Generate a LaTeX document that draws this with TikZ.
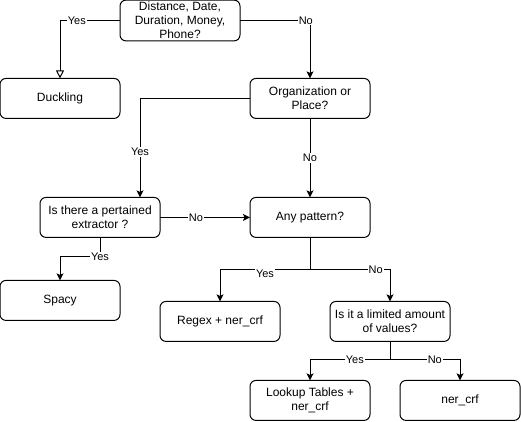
\documentclass[tikz,border=0pt]{standalone}
\usepackage{fontspec}
\setmainfont{Liberation Sans}
\usetikzlibrary{arrows,arrows.meta,shapes,positioning,calc}

\begin{document}
\begin{tikzpicture}[x=1pt, y=-1pt, line width=1pt,
  >={Stealth[length=7pt, width=7pt, inset=1.5pt]},
  box/.style={rectangle, rounded corners=6pt, draw, outer sep=0pt, minimum width=120pt, minimum height=40pt, align=center, inner sep=2pt, font=\fontsize{12pt}{14pt}\selectfont},
  lbl/.style={fill=white, inner sep=1pt, font=\fontsize{11pt}{13pt}\selectfont}]
\useasboundingbox (0,0) rectangle (521,421);
\node [box] (dist) at (180,20.5) {Distance, Date,\\Duration, Money,\\Phone?};
\node [box] (duck) [below left=37.5pt and 0pt of dist] {Duckling};
\node [box] (org) [below right=37.5pt and 10pt of dist] {Organization or\\Place?};
\node [box] (pat) [below=79pt of org] {Any pattern?};
\node [box] (ext) [left=90pt of pat] {Is there a pertained\\extractor ?};
\node [box] (spacy) [below=162pt of duck] {Spacy};
\node [box] (regex) [below=64pt of pat, xshift=-90pt] {Regex + ner\_crf};
\node [box] (lim) [right=50pt of regex] {Is it a limited amount\\of values?};
\node [box] (look) [below=39pt of lim, xshift=-80pt] {Lookup Tables +\\ner\_crf};
\node [box] (ner) [right=30pt of look] {ner\_crf};

\draw [-{Triangle[open, length=8pt, width=8pt]}] (dist) -| node [lbl, pos=0.36] {Yes} (duck);
\draw [->] (dist) -| node [lbl, pos=0.47] {No} (org);
\draw [->] (org.west) -| node [lbl, pos=0.77] {Yes} ([xshift=40pt]ext.north);
\draw [->] (org) to node [lbl] {No} (pat);
\draw [->] (ext) to node [lbl, pos=0.4] {No} (pat);
\draw [->] (ext.south) -- ++(0,-19pt) node [lbl] {Yes} -| (spacy.north);
\draw [->] (pat.south) -- ++(0,-32pt) -| node [lbl, pos=0.25, yshift=-4pt] {Yes} (regex.north);
\draw [->] (pat.south) -- ++(0,-32pt) -| node [lbl, pos=0.41] {No} (lim.north);
\draw [->] (lim.south) -- ++(0,-18pt) -| node [lbl, pos=0.22] {Yes} (look.north);
\draw [->] (lim.south) -- ++(0,-18pt) -| node [lbl, pos=0.32] {No} (ner.north);
\end{tikzpicture}
\end{document}
